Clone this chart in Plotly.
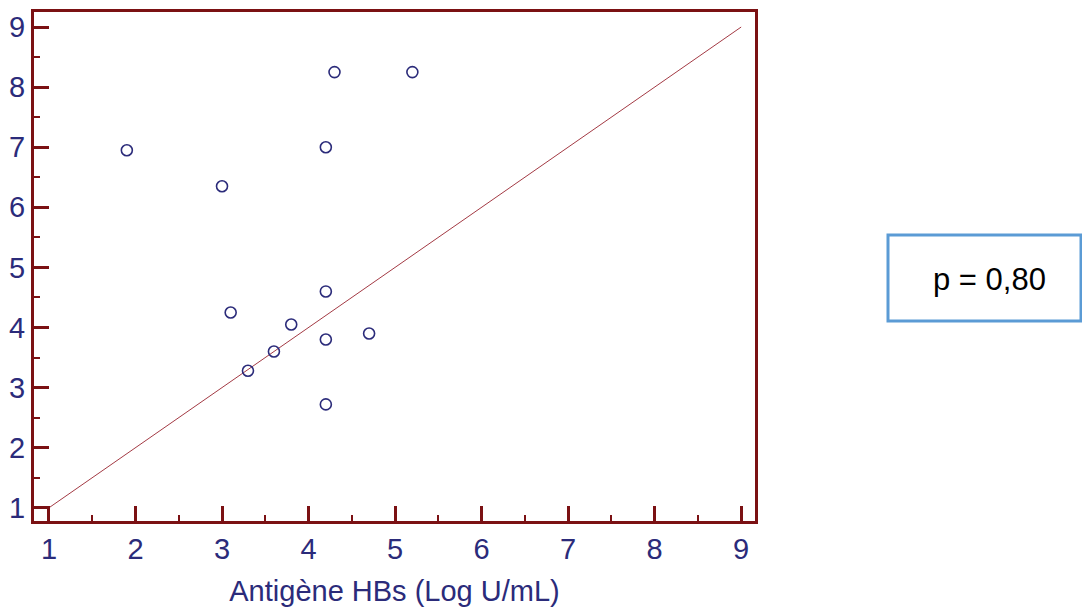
import plotly.graph_objects as go

x_vals = [1.9, 3.0, 4.3, 5.2, 4.2, 4.2, 3.1, 3.8, 4.7, 4.2, 3.6, 3.3, 4.2]
y_vals = [6.95, 6.35, 8.25, 8.25, 7.0, 4.6, 4.25, 4.05, 3.9, 3.8, 3.6, 3.28, 2.72]
line_x = [1, 9]
line_y = [1, 9]
tick_vals = [1, 2, 3, 4, 5, 6, 7, 8, 9]
x_title = "Antigène HBs (Log U/mL)"
p_text = "p = 0,80"

navy = "#2b2b7a"
axis_red = "#7b1113"
font_fam = "Liberation Sans, Arial"

fig = go.Figure()
fig.add_trace(go.Scatter(x=line_x, y=line_y, mode="lines",
                         line=dict(color="#a33a44", width=1), hoverinfo="skip"))
fig.add_trace(go.Scatter(x=x_vals, y=y_vals, mode="markers",
                         marker=dict(symbol="circle-open", size=11, color=navy,
                                     line=dict(width=1.6, color=navy))))

axis_common = dict(
    showline=True, linecolor=axis_red, linewidth=3, mirror=True,
    ticks="inside", ticklen=15, tickwidth=3, tickcolor=axis_red,
    tickvals=tick_vals, showgrid=False, zeroline=False, automargin=False,
    tickfont=dict(family=font_fam, size=29, color=navy),
    minor=dict(ticks="inside", ticklen=6, tickwidth=2, tickcolor=axis_red, dtick=0.5, showgrid=False),
)

fig.update_layout(
    width=1082, height=610,
    margin=dict(l=34, r=327, t=12, b=89),
    plot_bgcolor="white", paper_bgcolor="white",
    showlegend=False,
    xaxis=dict(range=[0.827, 9.16],
               title=dict(text=x_title, font=dict(family=font_fam, size=29, color=navy), standoff=17),
               **axis_common),
    yaxis=dict(range=[0.78, 9.25], **axis_common),
    shapes=[dict(type="rect", xref="paper", yref="paper",
                 x0=(888-34)/721, x1=(1081-34)/721, y0=(610-89-321)/509, y1=(610-89-235)/509,
                 line=dict(color="#5b9bd5", width=3), fillcolor="white")],
    annotations=[dict(text=p_text, xref="paper", yref="paper",
                      x=(989-34)/721, y=(610-89-279)/509, xanchor="center", yanchor="middle",
                      showarrow=False,
                      font=dict(family=font_fam, size=31, color="black"))],
)

fig.write_html("out.html")
